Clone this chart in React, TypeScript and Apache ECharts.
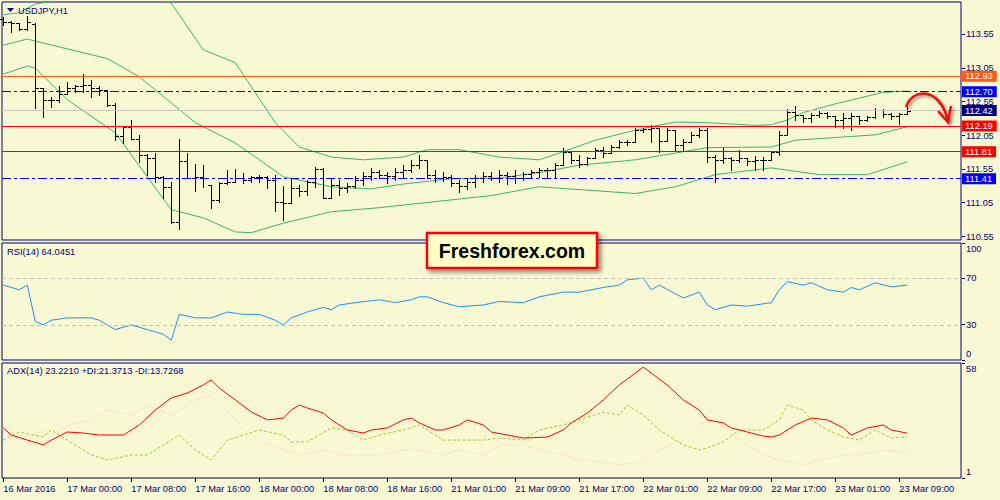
import React, { useEffect, useRef } from 'react';
import * as echarts from 'echarts';

// ---------- data ----------
const TIME_LABELS = ['16 Mar 2016', '17 Mar 00:00', '17 Mar 08:00', '17 Mar 16:00', '18 Mar 00:00', '18 Mar 08:00', '18 Mar 16:00', '21 Mar 01:00', '21 Mar 09:00', '21 Mar 17:00', '22 Mar 01:00', '22 Mar 09:00', '22 Mar 17:00', '23 Mar 01:00', '23 Mar 09:00'];
const BARS_PER_LABEL = 8;
const PRICE_TICKS = [110.55, 111.05, 111.55, 112.05, 112.55, 113.05, 113.55];
const RSI_TICKS = [0, 30, 70, 100];
const ADX_TICKS = [1, 58];

const BAR_OPEN = [113.78, 113.73, 113.72, 113.63, 113.70, 112.76, 112.58, 112.58, 112.67, 112.76, 112.79, 112.80, 112.76, 112.73, 112.50, 112.04, 112.18, 112.00, 111.76, 111.72, 111.44, 111.29, 110.77, 111.67, 111.42, 111.44, 111.32, 111.10, 111.35, 111.36, 111.42, 111.39, 111.44, 111.44, 111.39, 111.07, 111.05, 111.27, 111.23, 111.36, 111.56, 111.13, 111.32, 111.27, 111.30, 111.39, 111.45, 111.51, 111.47, 111.45, 111.51, 111.54, 111.61, 111.69, 111.47, 111.42, 111.44, 111.35, 111.30, 111.36, 111.42, 111.45, 111.42, 111.47, 111.45, 111.42, 111.48, 111.51, 111.54, 111.54, 111.61, 111.81, 111.69, 111.63, 111.72, 111.84, 111.79, 111.88, 111.96, 111.96, 112.13, 112.15, 112.16, 111.97, 112.13, 111.91, 111.96, 112.06, 112.13, 111.73, 111.69, 111.72, 111.69, 111.72, 111.67, 111.69, 111.69, 111.81, 112.06, 112.40, 112.36, 112.31, 112.36, 112.39, 112.34, 112.28, 112.31, 112.34, 112.28, 112.33, 112.43, 112.37, 112.34, 112.37];
const BAR_HIGH = [113.81, 113.75, 113.72, 113.82, 113.72, 112.76, 112.62, 112.79, 112.84, 112.80, 112.96, 112.87, 112.79, 112.73, 112.53, 112.18, 112.28, 112.06, 111.78, 111.79, 111.45, 111.36, 112.00, 111.79, 111.63, 111.61, 111.32, 111.36, 111.54, 111.56, 111.50, 111.45, 111.47, 111.45, 111.47, 111.30, 111.42, 111.32, 111.39, 111.58, 111.57, 111.42, 111.39, 111.35, 111.45, 111.51, 111.57, 111.54, 111.51, 111.57, 111.61, 111.69, 111.76, 111.69, 111.54, 111.51, 111.47, 111.39, 111.42, 111.47, 111.51, 111.51, 111.54, 111.51, 111.54, 111.51, 111.54, 111.57, 111.57, 111.64, 111.87, 111.81, 111.76, 111.73, 111.87, 111.88, 111.91, 111.98, 111.98, 112.16, 112.16, 112.21, 112.16, 112.16, 112.13, 112.00, 112.10, 112.16, 112.16, 111.76, 111.87, 111.73, 111.84, 111.72, 111.75, 111.73, 111.82, 112.12, 112.44, 112.49, 112.36, 112.39, 112.43, 112.40, 112.34, 112.39, 112.39, 112.34, 112.34, 112.46, 112.44, 112.39, 112.39, 112.47];
const BAR_LOW = [113.69, 113.59, 113.62, 113.62, 112.46, 112.33, 112.47, 112.55, 112.67, 112.70, 112.70, 112.62, 112.65, 112.49, 111.98, 111.94, 112.00, 111.66, 111.47, 111.36, 111.13, 110.75, 110.67, 111.42, 111.23, 111.29, 110.98, 111.07, 111.33, 111.36, 111.35, 111.36, 111.36, 111.27, 110.93, 110.80, 111.05, 111.15, 111.17, 111.29, 111.13, 111.13, 111.17, 111.21, 111.27, 111.32, 111.39, 111.42, 111.35, 111.39, 111.42, 111.51, 111.57, 111.42, 111.36, 111.38, 111.30, 111.21, 111.26, 111.29, 111.36, 111.39, 111.36, 111.33, 111.35, 111.39, 111.42, 111.44, 111.44, 111.44, 111.61, 111.64, 111.58, 111.61, 111.72, 111.73, 111.79, 111.87, 111.91, 111.96, 112.10, 111.96, 111.81, 111.97, 111.84, 111.82, 111.96, 112.03, 111.66, 111.36, 111.64, 111.54, 111.66, 111.61, 111.54, 111.54, 111.69, 111.76, 112.06, 112.28, 112.25, 112.25, 112.33, 112.31, 112.18, 112.16, 112.13, 112.22, 112.27, 112.31, 112.33, 112.30, 112.22, 112.37];
const BAR_CLOSE = [113.73, 113.72, 113.63, 113.73, 112.76, 112.58, 112.58, 112.67, 112.76, 112.79, 112.80, 112.76, 112.73, 112.50, 112.04, 112.18, 112.00, 111.76, 111.72, 111.44, 111.29, 110.77, 111.67, 111.42, 111.44, 111.42, 111.10, 111.35, 111.36, 111.42, 111.39, 111.44, 111.44, 111.39, 111.07, 111.05, 111.27, 111.23, 111.36, 111.56, 111.13, 111.32, 111.27, 111.30, 111.39, 111.45, 111.51, 111.47, 111.45, 111.51, 111.54, 111.61, 111.69, 111.47, 111.42, 111.44, 111.35, 111.30, 111.36, 111.42, 111.45, 111.42, 111.47, 111.45, 111.42, 111.48, 111.51, 111.54, 111.54, 111.61, 111.81, 111.69, 111.63, 111.72, 111.84, 111.79, 111.88, 111.96, 111.96, 112.13, 112.15, 112.16, 111.97, 112.13, 111.91, 111.96, 112.06, 112.13, 111.73, 111.69, 111.72, 111.69, 111.72, 111.67, 111.69, 111.69, 111.81, 112.06, 112.40, 112.36, 112.31, 112.36, 112.39, 112.34, 112.28, 112.31, 112.34, 112.28, 112.33, 112.43, 112.37, 112.34, 112.37, 112.42];

// Bollinger bands, [bar index, price]
const BB_UPPER = [[0, 113.84], [2, 113.87], [4, 114.0], [8, 114.07], [12, 114.25], [16, 114.22], [21, 114.01], [25, 113.32], [29, 113.13], [30, 112.95], [34, 112.24], [37, 111.88], [41, 111.73], [45, 111.69], [50, 111.73], [53, 111.84], [57, 111.84], [62, 111.73], [67, 111.69], [70, 111.81], [74, 111.98], [78, 112.10], [81, 112.18], [84, 112.25], [88, 112.24], [94, 112.20], [96, 112.21], [98, 112.28], [100, 112.39], [104, 112.52], [110, 112.69], [113, 112.71]];
const BB_MIDDLE = [[0, 113.39], [3, 113.48], [4, 113.45], [13, 113.19], [17, 112.92], [24, 112.24], [29, 111.94], [35, 111.44], [41, 111.29], [46, 111.26], [50, 111.33], [56, 111.41], [62, 111.42], [67, 111.50], [72, 111.61], [79, 111.69], [88, 111.87], [96, 111.88], [99, 111.98], [109, 112.06], [113, 112.18]];
const BB_LOWER = [[0, 112.96], [3, 113.08], [4, 113.05], [8, 112.58], [14, 112.09], [21, 110.95], [25, 110.83], [29, 110.62], [31, 110.61], [35, 110.75], [41, 110.92], [47, 110.98], [54, 111.07], [61, 111.16], [67, 111.29], [79, 111.19], [84, 111.29], [89, 111.47], [96, 111.57], [102, 111.47], [108, 111.47], [113, 111.66]];

const LEVELS = [
  { price: 112.93, color: '#FF5A14', dash: 'solid', label: '#FF5A14' },
  { price: 112.70, color: '#0000FF', dash: [9, 3, 3, 3], label: '#0000FF' },
  { price: 112.42, color: '#C8C8C8', dash: 'solid', label: '#000080' },
  { price: 112.19, color: '#FF0000', dash: 'solid', label: '#FF0000' },
  { price: 111.81, color: '#FF0000', dash: 'solid', label: '#FF0000' },
  { price: 111.41, color: '#0000FF', dash: [9, 3, 3, 3], label: '#0000FF' },
];

const RSI_POINTS = [[0, 64], [2, 60], [3, 64], [4, 33], [5, 30], [6, 34], [8, 36], [11, 36], [12, 34], [14, 26], [16, 30], [18, 26], [20, 22], [21, 17], [22, 39], [24, 36], [26, 36], [28, 41], [30, 39], [32, 39], [34, 34], [35, 30], [36, 36], [38, 41], [40, 45], [41, 43], [42, 47], [44, 49], [47, 51.5], [49, 49], [51, 51.5], [52, 54], [53, 54], [55, 49], [57, 45.5], [60, 47], [62, 50], [65, 49], [67, 54], [70, 58], [72, 58], [75, 62], [77, 64], [78, 68.5], [80, 70], [81, 60], [82, 64], [85, 53], [87, 58], [88, 47], [89, 43], [91, 47], [93, 46], [96, 49], [97, 60], [98, 67], [100, 64], [101, 66], [103, 60], [105, 58], [106, 62], [107, 60], [109, 66], [111, 62.5], [113, 64.05]];
const RSI_LEVELS = [70, 30];

const ADX_MAIN = [[0, 25.8], [1, 22.3], [3, 19.8], [5, 17.4], [6, 19.8], [8, 23.8], [10, 23.3], [12, 22.3], [15, 22.3], [17, 27.3], [19, 34.7], [21, 40.7], [23, 43.1], [25, 47.1], [26, 49.6], [27, 45.6], [29, 39.7], [31, 33.7], [33, 29.8], [35, 30.7], [36, 34.7], [37, 37.2], [38, 35.7], [40, 33.2], [41, 29.8], [43, 24.8], [45, 23.3], [46, 24.8], [48, 25.8], [50, 29.8], [51, 30.7], [52, 28.3], [54, 24.8], [55, 24.8], [57, 27.3], [58, 29.8], [60, 27.3], [61, 23.8], [63, 22.3], [65, 20.8], [68, 21.3], [70, 24.8], [71, 28.3], [73, 33.2], [75, 39.7], [77, 47.1], [79, 53], [80, 56], [81, 53], [83, 47.1], [85, 39.7], [87, 34.7], [88, 29.8], [90, 28.3], [91, 25.8], [93, 23.8], [95, 21.8], [96, 21.3], [97, 22.3], [99, 27.3], [101, 30.7], [103, 29.8], [105, 25.8], [106, 22.3], [108, 25.8], [110, 27.3], [111, 24.8], [113, 23.22]];
const ADX_PLUS_DI = [[0, 19.8], [2, 23.8], [5, 21.3], [6, 24.8], [8, 19.8], [11, 12.4], [13, 9.9], [16, 12.4], [18, 12.4], [21, 19.8], [22, 22.3], [24, 14.9], [26, 9.9], [28, 19.8], [30, 22.3], [32, 24.8], [35, 22.3], [36, 18.9], [38, 18.9], [41, 25.8], [43, 24.8], [45, 19.8], [47, 22.3], [50, 24.8], [52, 27.3], [55, 19.8], [57, 19.8], [60, 19.8], [62, 20.8], [65, 19.8], [67, 24.8], [70, 27.3], [72, 29.8], [75, 33.7], [77, 32.2], [78, 37.2], [80, 32.2], [82, 24.8], [85, 17.4], [87, 14.9], [88, 15.9], [90, 18.9], [92, 24.8], [95, 24.8], [97, 29.8], [98, 37.2], [100, 34.7], [101, 29.8], [103, 24.8], [105, 21.3], [107, 19.8], [109, 24.8], [111, 20.8], [113, 21.37]];
const ADX_MINUS_DI = [[0, 24.8], [2, 19.8], [5, 24.8], [6, 22.3], [8, 27.3], [11, 29.8], [13, 34.7], [16, 32.2], [18, 37.2], [21, 32.2], [24, 39.7], [26, 42.1], [28, 34.7], [30, 24.8], [32, 19.8], [35, 14.9], [37, 12.4], [40, 14.9], [42, 12.4], [45, 12.4], [47, 12.4], [50, 14.9], [52, 14.9], [55, 12.4], [57, 14.9], [60, 12.4], [62, 17.4], [65, 17.4], [67, 14.9], [70, 12.4], [72, 9.9], [75, 8.9], [77, 7.5], [80, 8.9], [82, 14.9], [85, 19.8], [87, 27.3], [88, 29.8], [90, 27.3], [92, 19.8], [95, 12.4], [97, 9.9], [100, 7.5], [102, 9.9], [105, 12.4], [107, 12.4], [110, 14.9], [113, 13.73]];

// ---------- styles ----------
const BG = '#F8F8D2';
const NAVY = '#000080';
const FONT = "'Liberation Sans', Arial, sans-serif";
const FS = 9.3;
const X_MIN = -0.1625;
const X_MAX = 119.7125;

export default function App() {
  const ref = useRef<HTMLDivElement>(null);

  useEffect(() => {
    if (!ref.current) return;
    const chart = echarts.init(ref.current, undefined, { renderer: 'svg' });
    const bars = BAR_OPEN.map((o, i) => [i, o, BAR_HIGH[i], BAR_LOW[i], BAR_CLOSE[i]]);
    const tickIdx = TIME_LABELS.map((_, i) => i * BARS_PER_LABEL);

    const xBase = (gridIndex: number, visible: boolean) => ({
      type: 'value',
      gridIndex,
      show: visible,
      min: X_MIN,
      max: X_MAX,
      splitLine: { show: false },
      axisLine: { show: false, onZero: false },
      axisTick: { show: false },
      axisLabel: visible
        ? {
            show: true,
            customValues: tickIdx,
            formatter: (v: number) => TIME_LABELS[Math.round(v / BARS_PER_LABEL)] ?? '',
            align: 'left',
            margin: 6,
            color: NAVY,
            fontSize: FS,
            fontFamily: FONT,
          }
        : { show: false },
    });

    const yBase = (gridIndex: number, min: number, max: number) => ({
      type: 'value', gridIndex, position: 'right', min, max, show: false,
      splitLine: { show: false }, axisLine: { show: false, onZero: false },
      axisTick: { show: false }, axisLabel: { show: false },
    });

    // right-hand scale: small outward tick + label, placed through the axes' own scales
    const scaleSeries = (idx: number, ticks: number[], decimals: number, edgeAlign: boolean) => ({
      type: 'custom', xAxisIndex: idx, yAxisIndex: idx, clip: false, silent: true, z: 1,
      data: ticks.map((v, k) => [X_MAX, v, edgeAlign ? (k === 0 ? 2 : k === ticks.length - 1 ? 1 : 0) : 0, decimals]),
      encode: { x: 0, y: 1 },
      renderItem: (params: any, api: any) => {
        const v = api.value(1);
        const p = api.coord([api.value(0), v]);
        const code = api.value(2);
        const va = code === 1 ? 'top' : code === 2 ? 'bottom' : 'middle';
        const ty = code === 1 ? p[1] + 1 : code === 2 ? p[1] - 2 : p[1];
        const yy = Math.round(p[1] - 0.5) + 0.5;
        return {
          type: 'group',
          children: [
            { type: 'rect', shape: { x: p[0] + 1, y: yy - 0.5, width: 3, height: 1 }, style: { fill: NAVY } },
            { type: 'text', style: { x: p[0] + 5, y: ty, text: Number(v).toFixed(api.value(3)), fill: NAVY, font: `${FS}px ${FONT}`, align: 'left', verticalAlign: va } },
          ],
        };
      },
    });

    const option: any = {
      animation: false,
      backgroundColor: BG,
      grid: [
        { left: 2, top: 2, width: 959, height: 238, show: true, borderColor: NAVY, borderWidth: 1, backgroundColor: 'transparent' },
        { left: 2, top: 243, width: 959, height: 117, show: true, borderColor: NAVY, borderWidth: 1, backgroundColor: 'transparent' },
        { left: 2, top: 363, width: 959, height: 115, show: true, borderColor: NAVY, borderWidth: 1, backgroundColor: 'transparent' },
      ],
      xAxis: [xBase(0, false), xBase(1, false), xBase(2, true)],
      yAxis: [yBase(0, 110.501, 114.029), yBase(1, 0, 100), yBase(2, 1, 58)],
      series: [
        scaleSeries(0, PRICE_TICKS, 2, false),
        scaleSeries(1, RSI_TICKS, 0, true),
        scaleSeries(2, ADX_TICKS, 0, true),
        {
          type: 'line', name: 'levels', xAxisIndex: 0, yAxisIndex: 0, data: BB_MIDDLE, showSymbol: false, silent: true,
          lineStyle: { color: '#3CB371', width: 1 }, z: 2,
          markLine: {
            silent: true, symbol: 'none', animation: false,
            label: { show: true, position: 'end', distance: 1, color: '#fff', fontSize: FS, fontFamily: FONT, padding: [1, 4, 1, 3], lineHeight: 9, formatter: (p: any) => Number(p.value).toFixed(2) },
            data: LEVELS.map((l) => ({
              yAxis: l.price,
              lineStyle: { color: l.color, type: l.dash, width: 1 },
              label: { backgroundColor: l.label },
            })),
          },
        },
        { type: 'line', xAxisIndex: 0, yAxisIndex: 0, data: BB_UPPER, showSymbol: false, silent: true, lineStyle: { color: '#3CB371', width: 1 }, z: 2 },
        { type: 'line', xAxisIndex: 0, yAxisIndex: 0, data: BB_LOWER, showSymbol: false, silent: true, lineStyle: { color: '#3CB371', width: 1 }, z: 2 },
        {
          type: 'custom', xAxisIndex: 0, yAxisIndex: 0, data: bars, z: 4, silent: true,
          encode: { x: 0, y: [1, 2, 3, 4] },
          renderItem: (params: any, api: any) => {
            const i = api.value(0);
            const o = api.coord([i, api.value(1)]);
            const h = api.coord([i, api.value(2)]);
            const l = api.coord([i, api.value(3)]);
            const c = api.coord([i, api.value(4)]);
            const x = Math.round(o[0] - 0.5) + 0.5;
            const st = { stroke: '#000', lineWidth: 1, fill: null };
            const oy = Math.round(o[1]) + 0.5;
            const cy = Math.round(c[1]) + 0.5;
            return {
              type: 'group',
              children: [
                { type: 'line', shape: { x1: x, y1: Math.round(h[1]), x2: x, y2: Math.round(l[1]) + 1 }, style: st },
                { type: 'line', shape: { x1: x - 3.5, y1: oy, x2: x, y2: oy }, style: st },
                { type: 'line', shape: { x1: x, y1: cy, x2: x + 3.5, y2: cy }, style: st },
              ],
            };
          },
        },
        {
          type: 'line', xAxisIndex: 1, yAxisIndex: 1, data: RSI_POINTS, showSymbol: false, silent: true,
          lineStyle: { color: '#1E90FF', width: 1 },
          markLine: {
            silent: true, symbol: 'none', animation: false, label: { show: false },
            lineStyle: { color: '#C0C0C0', type: [4, 3], width: 1 },
            data: RSI_LEVELS.map((v) => ({ yAxis: v })),
          },
        },
        { type: 'line', xAxisIndex: 2, yAxisIndex: 2, data: ADX_MINUS_DI, showSymbol: false, silent: true, lineStyle: { color: '#F2C4A6', width: 1, type: [1, 2] } },
        { type: 'line', xAxisIndex: 2, yAxisIndex: 2, data: ADX_PLUS_DI, showSymbol: false, silent: true, lineStyle: { color: '#9ACD32', width: 1, type: [3, 2] } },
        { type: 'line', xAxisIndex: 2, yAxisIndex: 2, data: ADX_MAIN, showSymbol: false, silent: true, lineStyle: { color: '#FF0000', width: 1 } },
        {
          type: 'custom', xAxisIndex: 2, yAxisIndex: 2, clip: false, silent: true, z: 6,
          data: tickIdx.map((i) => [i, 1]), encode: { x: 0, y: 1 },
          renderItem: (params: any, api: any) => {
            const p = api.coord([api.value(0), api.value(1)]);
            const x = Math.round(p[0] - 0.5) + 0.5;
            return { type: 'line', shape: { x1: x, y1: p[1], x2: x, y2: p[1] + 4 }, style: { stroke: NAVY, lineWidth: 1 } };
          },
        },
      ],
      graphic: [
        { type: 'polygon', shape: { points: [[7, 8], [14, 8], [10.5, 12]] }, style: { fill: NAVY }, z: 10 },
        { type: 'text', x: 18, y: 11, style: { text: 'USDJPY,H1', fill: NAVY, font: `${FS}px ${FONT}`, verticalAlign: 'middle' }, z: 10 },
        { type: 'text', x: 7, y: 252, style: { text: 'RSI(14) 64.0451', fill: NAVY, font: `${FS}px ${FONT}`, verticalAlign: 'middle' }, z: 10 },
        { type: 'text', x: 7, y: 371, style: { text: 'ADX(14) 23.2210 +DI:21.3713 -DI:13.7268', fill: NAVY, font: `${FS}px ${FONT}`, verticalAlign: 'middle' }, z: 10 },
        {
          type: 'rect', shape: { x: 427, y: 233, width: 170, height: 35 }, z: 20,
          style: { fill: '#FFFFC8', stroke: '#FF0000', lineWidth: 2.5, shadowBlur: 4, shadowOffsetX: 3, shadowOffsetY: 3, shadowColor: 'rgba(0,0,0,0.45)' },
        },
        { type: 'text', x: 512, y: 251, z: 21, style: { text: 'Freshforex.com', fill: '#000', font: `bold 19.5px ${FONT}`, align: 'center', verticalAlign: 'middle' } },
        {
          type: 'bezierCurve', z: 20,
          shape: { x1: 906, y1: 107, cpx1: 912, cpy1: 88, cpx2: 940, cpy2: 86, x2: 948, y2: 121 },
          style: { stroke: '#F01010', lineWidth: 2.5, fill: null, shadowBlur: 3, shadowOffsetX: 2, shadowOffsetY: 2, shadowColor: 'rgba(0,0,0,0.4)' },
        },
        {
          type: 'polyline', z: 20,
          shape: { points: [[938, 111], [948, 122], [951, 106]] },
          style: { stroke: '#F01010', lineWidth: 2.5, fill: null, shadowBlur: 3, shadowOffsetX: 2, shadowOffsetY: 2, shadowColor: 'rgba(0,0,0,0.4)' },
        },
      ],
    };
    chart.setOption(option);
    return () => chart.dispose();
  }, []);

  return (
    <div
      ref={ref}
      style={{ position: 'fixed', left: 0, top: 0, width: 1000, height: 500, background: BG }}
    />
  );
}
